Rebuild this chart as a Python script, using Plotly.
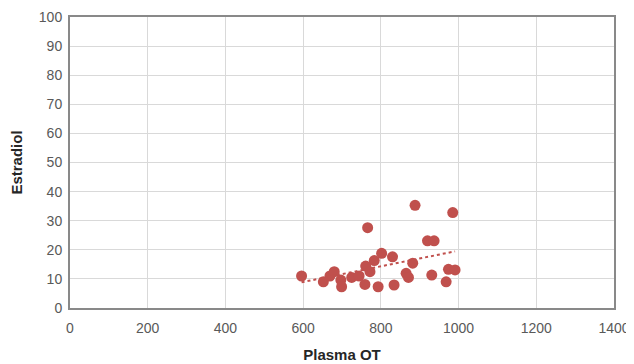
import numpy as np
import plotly.graph_objects as go

plasma_ot = [596, 652, 669, 680, 697, 699, 725, 744, 759, 761, 766, 772, 783, 793,
             802, 830, 834, 865, 871, 882, 888, 920, 931, 937, 968, 974, 985, 991]
estradiol = [11.0, 9.0, 11.0, 12.5, 9.6, 7.3, 10.5, 11.0, 8.1, 14.4, 27.6, 12.5, 16.3, 7.3,
             18.8, 17.6, 7.9, 11.9, 10.5, 15.4, 35.3, 23.1, 11.3, 23.1, 9.0, 13.3, 32.8, 13.1]

x_ticks = [0, 200, 400, 600, 800, 1000, 1200, 1400]
y_ticks = [0, 10, 20, 30, 40, 50, 60, 70, 80, 90, 100]

slope, intercept = np.polyfit(plasma_ot, estradiol, 1)
trend_x = [min(plasma_ot), max(plasma_ot)]
trend_y = [slope * v + intercept for v in trend_x]

red = "#C0504D"
grey_text = "#595959"

fig = go.Figure()
fig.add_trace(go.Scatter(x=plasma_ot, y=estradiol, mode="markers",
                         marker=dict(color=red, size=11, line=dict(width=0)),
                         showlegend=False, cliponaxis=False))
fig.add_trace(go.Scatter(x=trend_x, y=trend_y, mode="lines",
                         line=dict(color=red, width=2, dash="dot"),
                         showlegend=False))

axis_common = dict(showgrid=True, gridcolor="#D9D9D9", gridwidth=1,
                   showline=True, linecolor="#898989", linewidth=2, mirror=True,
                   zeroline=False, ticks="", automargin=False,
                   tickfont=dict(family="Liberation Sans, Arial", size=14, color=grey_text))

# page body has an 8px default margin, so the figure is sized to fit inside it
fig.update_layout(
    width=626, height=356,
    margin=dict(l=62, r=20, t=9, b=56),
    paper_bgcolor="white", plot_bgcolor="white",
    xaxis=dict(range=[0, 1400], tickvals=x_ticks, ticklabelstandoff=6,
               title=dict(text="<b>Plasma OT</b>",
                          font=dict(family="Liberation Sans, Arial", size=15, color="#262626")),
               **axis_common),
    yaxis=dict(range=[0, 100], tickvals=y_ticks, ticklabelstandoff=3,
               title=dict(text="<b>Estradiol</b>",
                          font=dict(family="Liberation Sans, Arial", size=15, color="#262626")),
               **axis_common),
)

fig.write_html("out.html")
